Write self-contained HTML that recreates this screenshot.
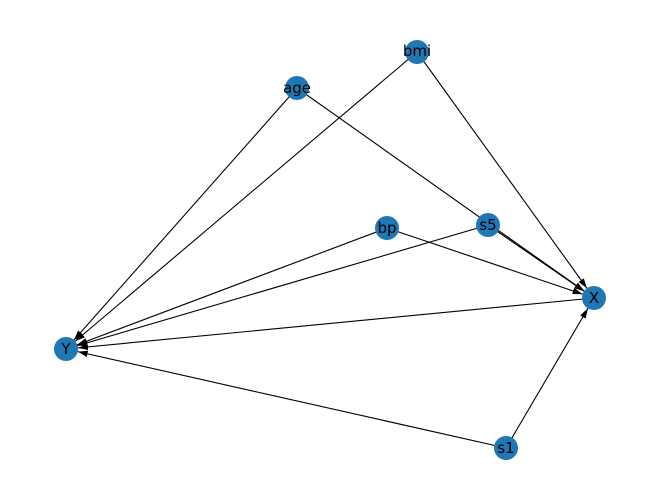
<!DOCTYPE html><html><head><style>body{margin:0;background:#fff}svg{display:block}</style></head><body>
<svg width="660" height="499" xmlns="http://www.w3.org/2000/svg">
<defs><marker id="a" markerUnits="userSpaceOnUse" markerWidth="30" markerHeight="10" viewBox="0 -5 30 10" refX="22" refY="0" orient="auto"><path d="M0,-3.2 L10,0 L0,3.2 z" fill="#000"/></marker></defs>
<g stroke="#000" stroke-width="1.1" marker-end="url(#a)">
<line x1="417" y1="52" x2="66" y2="349"/>
<line x1="417" y1="52" x2="594" y2="298"/>
<line x1="297" y1="88" x2="66" y2="349"/>
<line x1="297" y1="88" x2="594" y2="298"/>
<line x1="387" y1="228" x2="66" y2="349"/>
<line x1="387" y1="228" x2="594" y2="298"/>
<line x1="488" y1="225" x2="66" y2="349"/>
<line x1="488" y1="225" x2="594" y2="298"/>
<line x1="594" y1="298" x2="66" y2="349"/>
<line x1="506" y1="448" x2="66" y2="349"/>
<line x1="506" y1="448" x2="594" y2="298"/>
</g>
<g fill="#1f77b4">
<circle cx="417" cy="52" r="12"/><circle cx="297" cy="88" r="12"/><circle cx="387" cy="228" r="12"/><circle cx="488" cy="225" r="12"/><circle cx="594" cy="298" r="12"/><circle cx="66" cy="349" r="12"/><circle cx="506" cy="448" r="12"/>
</g>
<g font-family="DejaVu Sans, sans-serif" font-size="15" text-anchor="middle" dominant-baseline="central" fill="#000">
<text x="417" y="51">bmi</text><text x="297" y="88">age</text><text x="387" y="228">bp</text><text x="488" y="225">s5</text><text x="594" y="298">X</text><text x="66" y="349">Y</text><text x="506" y="448">s1</text>
</g>
</svg></body></html>
